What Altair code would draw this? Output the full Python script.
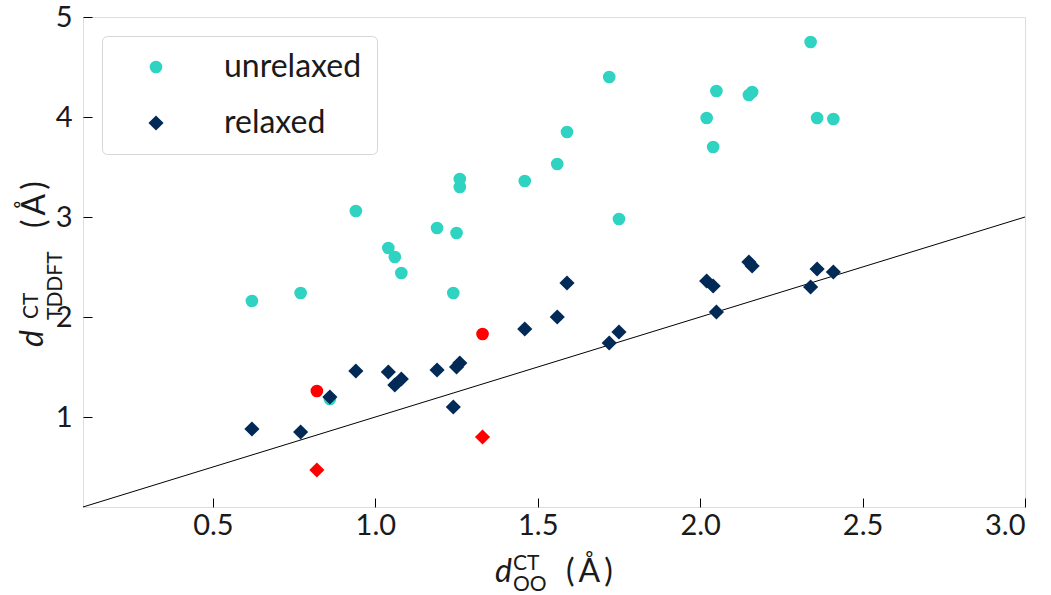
import altair as alt
import pandas as pd

# --- data ---
unrelaxed_x = [0.62, 0.77, 0.86, 0.94, 1.04, 1.06, 1.08, 1.19, 1.24, 1.25, 1.26, 1.26, 1.46,
               1.56, 1.59, 1.72, 1.75, 2.02, 2.04, 2.05, 2.15, 2.16, 2.34, 2.36, 2.41]
unrelaxed_y = [2.16, 2.24, 1.18, 3.06, 2.69, 2.60, 2.44, 2.89, 2.24, 2.84, 3.38, 3.30, 3.36,
               3.53, 3.85, 4.40, 2.98, 3.99, 3.70, 4.26, 4.22, 4.25, 4.75, 3.99, 3.98]
relaxed_x = [0.62, 0.77, 0.86, 0.94, 1.04, 1.06, 1.08, 1.19, 1.24, 1.25, 1.26, 1.46,
             1.56, 1.59, 1.72, 1.75, 2.02, 2.04, 2.05, 2.15, 2.16, 2.34, 2.36, 2.41]
relaxed_y = [0.88, 0.85, 1.20, 1.46, 1.45, 1.32, 1.38, 1.47, 1.10, 1.50, 1.54, 1.88,
             2.00, 2.34, 1.74, 1.85, 2.36, 2.31, 2.05, 2.55, 2.51, 2.30, 2.48, 2.45]
red_unrelaxed_x = [0.82, 1.33]
red_unrelaxed_y = [1.26, 1.83]
red_relaxed_x = [0.82, 1.33]
red_relaxed_y = [0.47, 0.80]
diag = [0.1, 3.0]
series_names = ["unrelaxed", "relaxed"]
x_ticks = [0.5, 1.0, 1.5, 2.0, 2.5, 3.0]
y_ticks = [1, 2, 3, 4, 5]

CYAN = "#2ed3c1"
NAVY = "#012a57"
RED = "#ff0000"
FONT = "Lato"

pts = pd.DataFrame({
    "x": unrelaxed_x + relaxed_x,
    "y": unrelaxed_y + relaxed_y,
    "series": ["unrelaxed"] * len(unrelaxed_x) + ["relaxed"] * len(relaxed_x),
})
red_c = pd.DataFrame({"x": red_unrelaxed_x, "y": red_unrelaxed_y})
red_d = pd.DataFrame({"x": red_relaxed_x, "y": red_relaxed_y})
line_df = pd.DataFrame({"x": diag, "y": diag})

xs = alt.Scale(domain=[0.1, 3.0], nice=False, zero=False)
ys = alt.Scale(domain=[0.1, 5.0], nice=False, zero=False)

xaxis = alt.Axis(values=x_ticks, format=".1f", title=None, grid=False, domain=False,
                 tickSize=9, offset=-9, labelPadding=4, tickColor="black",
                 labelFontSize=29, labelFont=FONT, labelColor="#1a1a1a")
yaxis = alt.Axis(values=y_ticks, format="d", title=None, grid=False, domain=False,
                 tickSize=9, offset=-9, labelPadding=11, tickColor="black",
                 labelFontSize=29, labelFont=FONT, labelColor="#1a1a1a")

line = alt.Chart(line_df).mark_line(color="black", strokeWidth=1).encode(
    x=alt.X("x:Q", scale=xs, axis=xaxis),
    y=alt.Y("y:Q", scale=ys, axis=yaxis),
)

points = alt.Chart(pts).mark_point(filled=True, opacity=1, strokeWidth=0).encode(
    x=alt.X("x:Q", scale=xs),
    y=alt.Y("y:Q", scale=ys),
    color=alt.Color("series:N", scale=alt.Scale(domain=series_names, range=[CYAN, NAVY]),
                    legend=alt.Legend(
                        title=None, orient="none", legendX=19, legendY=19,
                        padding=15, symbolOffset=23, labelOffset=52, rowPadding=24,
                        labelFontSize=32, labelFont=FONT, labelColor="#1a1a1a",
                        strokeColor="#d6d6d6", cornerRadius=5, fillColor="white",
                        symbolStrokeWidth=0, labelLimit=400)),
    shape=alt.Shape("series:N", scale=alt.Scale(domain=series_names, range=["circle", "diamond"])),
    size=alt.Size("series:N", scale=alt.Scale(domain=series_names, range=[160, 230])),
)

red1 = alt.Chart(red_c).mark_point(filled=True, opacity=1, strokeWidth=0, shape="circle",
                                   size=160, color=RED).encode(
    x=alt.X("x:Q", scale=xs), y=alt.Y("y:Q", scale=ys))
red2 = alt.Chart(red_d).mark_point(filled=True, opacity=1, strokeWidth=0, shape="diamond",
                                   size=230, color=RED).encode(
    x=alt.X("x:Q", scale=xs), y=alt.Y("y:Q", scale=ys))

def txt(s, x, y, size, angle=0, italic=False):
    kw = dict(text=s, font=FONT, fontSize=size, align="left", baseline="alphabetic",
              color="#1a1a1a")
    if angle:
        kw["angle"] = angle
    if italic:
        kw["fontStyle"] = "italic"
    return alt.Chart(line_df.head(1)).mark_text(**kw).encode(x=alt.value(x), y=alt.value(y))

unit = "(\u2009Å\u2009)"
titles = [
    # x-axis title: d_OO^CT (Å)
    txt("d", 412, 565, 32, italic=True),
    txt("CT", 430, 553, 21),
    txt("OO", 430, 574, 21),
    txt(unit, 483, 565, 32),
    # y-axis title
    txt("d", -40, 330, 32, angle=270, italic=True),
    txt("CT", -45, 302, 21, angle=270),
    txt("TDDFT", -21, 303, 21, angle=270),
    txt(unit, -38, 211, 32, angle=270),
]

chart = alt.layer(line, points, red1, red2, *titles).properties(
    width=942, height=490,
    padding={"left": 83, "top": 17, "right": 26, "bottom": 88},
    autosize=alt.AutoSizeParams(type="none"),
).configure_view(stroke="black", strokeWidth=1.2).configure(background="white")

chart.save("out.html", embed_options={"renderer": "svg", "actions": False})
